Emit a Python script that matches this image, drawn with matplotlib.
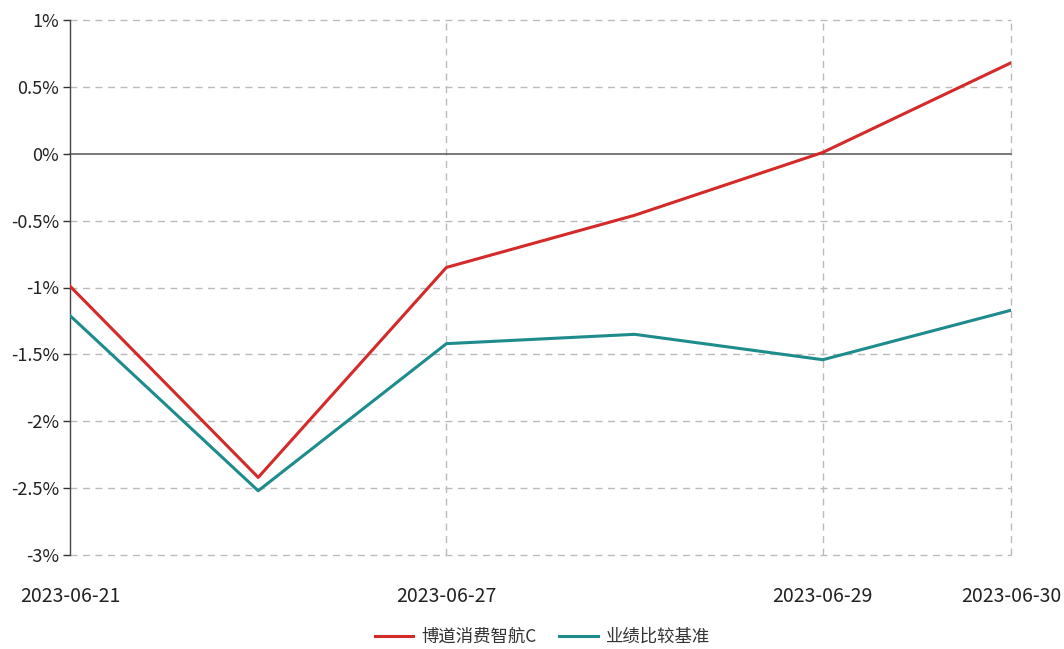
import matplotlib
matplotlib.use("Agg")
import matplotlib.pyplot as plt
from matplotlib.ticker import FuncFormatter

plt.rcParams['font.family'] = ['Noto Sans CJK SC', 'DejaVu Sans']

dates = ["2023-06-21", "2023-06-26", "2023-06-27", "2023-06-28", "2023-06-29", "2023-06-30"]
fund = [-0.99, -2.42, -0.85, -0.46, 0.01, 0.68]
bench = [-1.21, -2.52, -1.42, -1.35, -1.54, -1.17]
shown_ticks = ["2023-06-21", "2023-06-27", "2023-06-29", "2023-06-30"]
yticks = [1, 0.5, 0, -0.5, -1, -1.5, -2, -2.5, -3]
names = ["博道消费智航C", "业绩比较基准"]

fig = plt.figure(figsize=(10.64, 6.49), dpi=100)
ax = fig.add_axes([70/1064, 1-555/649, (1011-70)/1064, (555-20)/649])

x = list(range(len(dates)))
ax.plot(x, fund, color="#d42a2a", lw=2.2, label=names[0], zorder=3)
ax.plot(x, bench, color="#1e8c8c", lw=2.2, label=names[1], zorder=3)

ax.set_xlim(0, len(dates) - 1)
ax.set_ylim(-3, 1)
ax.set_yticks(yticks)
ax.yaxis.set_major_formatter(FuncFormatter(lambda v, p: f"{v:g}%"))

tick_idx = [dates.index(d) for d in shown_ticks]
ax.set_xticks(tick_idx)
ax.set_xticklabels(shown_ticks)
ax.tick_params(axis='x', length=0, pad=22, labelsize=14, colors="#222222")
ax.tick_params(axis='y', length=5, width=1, color="#333333", labelsize=13, labelcolor="#222222", pad=3)

for v in yticks:
    if v == 0:
        ax.axhline(v, color="#555555", lw=1.1, zorder=2, clip_on=False)
    else:
        ax.axhline(v, color="#bbbbbb", lw=1, ls=(0, (5, 4)), zorder=1, clip_on=False)
for i in tick_idx[1:]:
    ax.axvline(i, color="#bbbbbb", lw=1, ls=(0, (5, 4)), zorder=1, clip_on=False)

for s in ["top", "right", "bottom"]:
    ax.spines[s].set_visible(False)
ax.spines["left"].set_color("#444444")
ax.spines["left"].set_linewidth(1)

leg = fig.legend(loc="center", bbox_to_anchor=(0.51, 1-637/649), ncol=2, frameon=False,
                 fontsize=12.5, handlelength=2.2, columnspacing=1.3, handletextpad=0.5)
for t in leg.get_texts():
    t.set_color("#333333")

fig.savefig("out.png", dpi=100)
